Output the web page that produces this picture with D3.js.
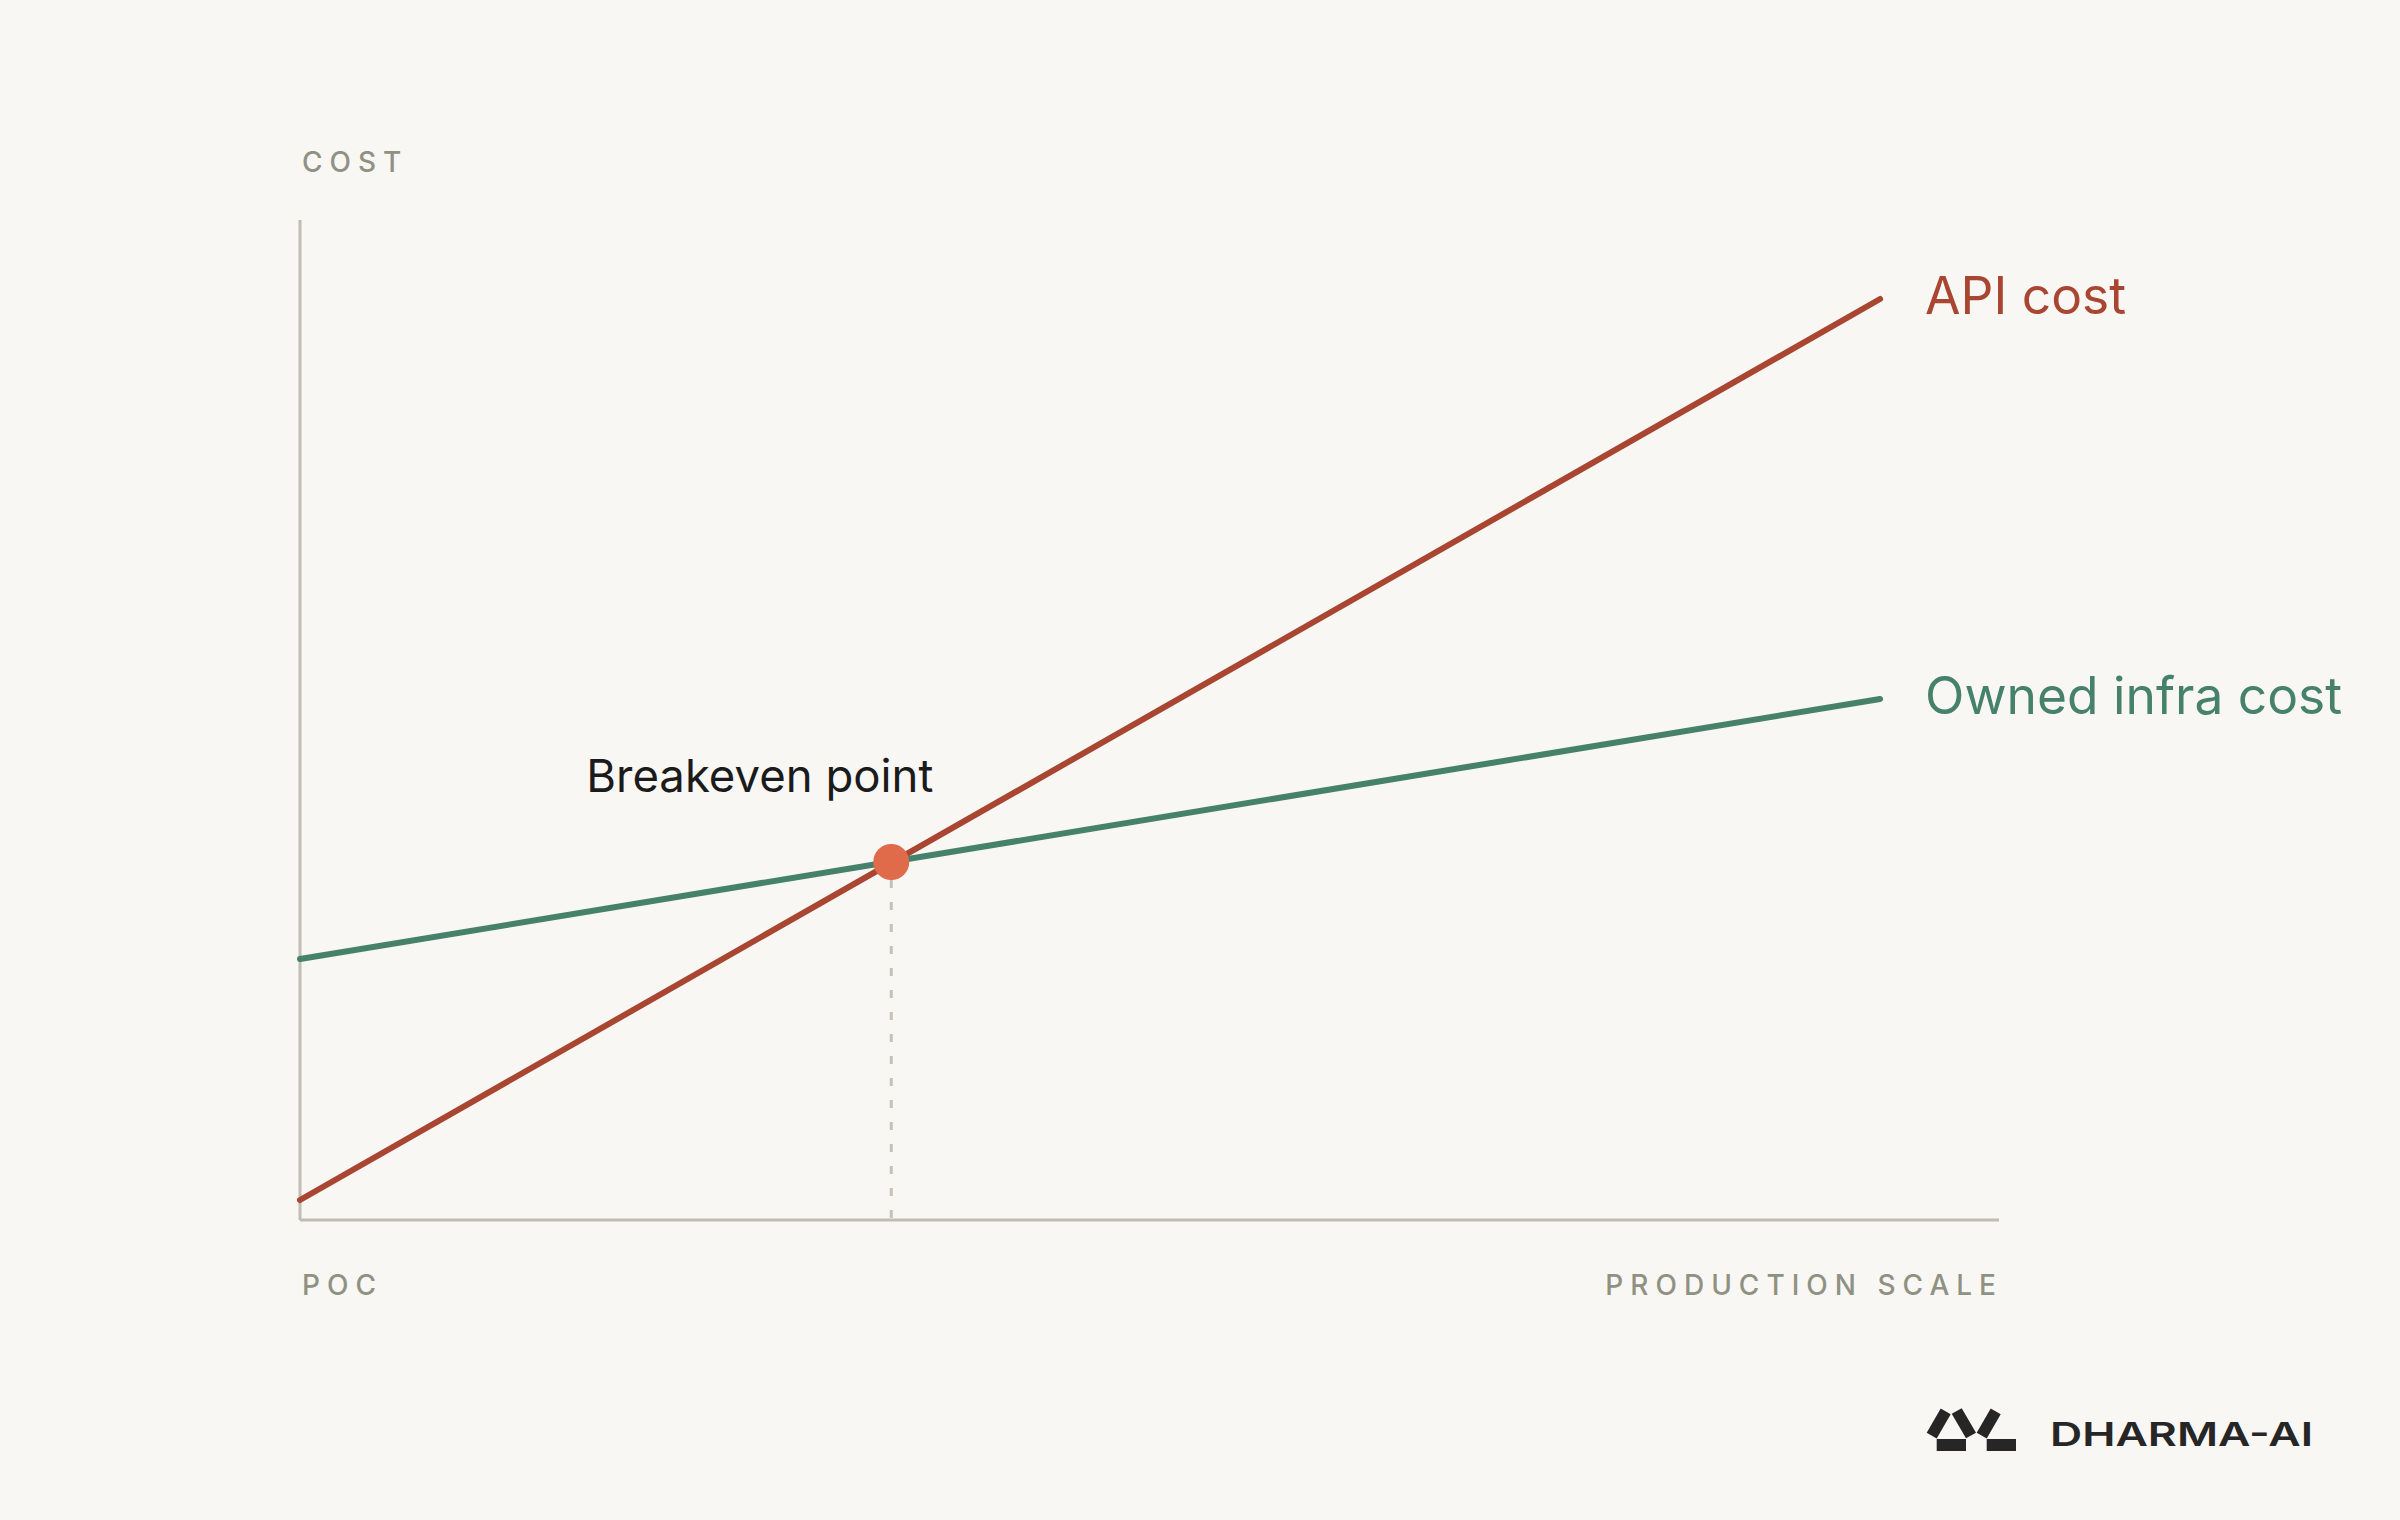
<!DOCTYPE html>
<html>
<head>
<meta charset="utf-8">
<script src="https://cdn.jsdelivr.net/npm/d3@7"></script>
<style>
  html, body { margin: 0; padding: 0; background: #f9f7f3; }
  svg { display: block; font-family: Inter, "Noto Sans", sans-serif; }
</style>
</head>
<body>
<div id="chart"></div>
<script>
// Chart data (cost index 0-100 against production scale 0-100)
const seriesNames = ["API cost", "Owned infra cost"];
const seriesColors = ["#a84632", "#46816b"];
const scalePoints = [0, 93];
const apiCost = [2, 92.1];
const ownedCost = [26.1, 52.1];
const breakeven = { x: 34.8, y: 35.8, label: "Breakeven point" };
const axisLabels = { y: "COST", xStart: "POC", xEnd: "PRODUCTION SCALE" };
const brand = "DHARMA-AI";

const width = 2400, height = 1520;
const margin = { left: 300, right: 401, top: 220, bottom: 300 };

const svg = d3.select("#chart").append("svg")
    .attr("width", width)
    .attr("height", height);

svg.append("rect")
    .attr("width", width)
    .attr("height", height)
    .attr("fill", "#f9f7f3");

const x = d3.scaleLinear().domain([0, 100]).range([margin.left, width - margin.right]);
const y = d3.scaleLinear().domain([0, 100]).range([height - margin.bottom, margin.top]);

// Axes: plain lines, no ticks
svg.append("line")
    .attr("x1", x(0)).attr("x2", x(0))
    .attr("y1", y(0)).attr("y2", y(100))
    .attr("stroke", "#bfbeb2")
    .attr("stroke-width", 3);

svg.append("line")
    .attr("x1", x(0)).attr("x2", x(100))
    .attr("y1", y(0)).attr("y2", y(0))
    .attr("stroke", "#bfbeb2")
    .attr("stroke-width", 3);

// Axis labels
const labelColor = "#8f9283";
svg.append("text")
    .attr("x", x(0) + 2)
    .attr("y", 172)
    .attr("fill", labelColor)
    .style("font-size", "28px")
    .style("font-weight", 500)
    .style("letter-spacing", "7px")
    .text(axisLabels.y);

svg.append("text")
    .attr("x", x(0) + 2)
    .attr("y", 1295)
    .attr("fill", labelColor)
    .style("font-size", "28px")
    .style("font-weight", 500)
    .style("letter-spacing", "7px")
    .text(axisLabels.xStart);

svg.append("text")
    .attr("x", x(100) + 4)
    .attr("y", 1295)
    .attr("text-anchor", "end")
    .attr("fill", labelColor)
    .style("font-size", "28px")
    .style("font-weight", 500)
    .style("letter-spacing", "7px")
    .text(axisLabels.xEnd);

// Dashed guide from breakeven to x axis
svg.append("line")
    .attr("x1", x(breakeven.x)).attr("x2", x(breakeven.x))
    .attr("y1", y(breakeven.y) + 18).attr("y2", y(0))
    .attr("stroke", "#c4c2b6")
    .attr("stroke-width", 3)
    .attr("stroke-dasharray", "8,14");

// Cost lines
const line = d3.line()
    .x((d, i) => x(scalePoints[i]))
    .y(d => y(d));

[apiCost, ownedCost].forEach((values, k) => {
    svg.append("path")
        .datum(values)
        .attr("d", line)
        .attr("fill", "none")
        .attr("stroke", seriesColors[k])
        .attr("stroke-width", 6)
        .attr("stroke-linecap", "round");

    svg.append("text")
        .attr("x", x(scalePoints[1]) + 45)
        .attr("y", y(values[1]) + 15)
        .attr("fill", seriesColors[k])
        .style("font-size", "51.5px")
        .text(seriesNames[k]);
});

// Breakeven marker
svg.append("circle")
    .attr("cx", x(breakeven.x))
    .attr("cy", y(breakeven.y))
    .attr("r", 18)
    .attr("fill", "#e06b4a");

svg.append("text")
    .attr("x", x(breakeven.x) - 305)
    .attr("y", y(breakeven.y) - 70)
    .attr("fill", "#1b1b1b")
    .style("font-size", "45.5px")
    .text(breakeven.label);

// Brand mark
const logo = svg.append("g").attr("fill", "#262626");
const tilted = [
    [[1926.7, 1432.7], [1940.7, 1408.5], [1950.7, 1414.3], [1936.7, 1438.5]],
    [[1951.7, 1413.8], [1961.7, 1408.3], [1976, 1432.7], [1966, 1438.3]],
    [[1976.7, 1432.7], [1990.7, 1408.5], [2000.7, 1414.3], [1986.7, 1438.5]]
];
tilted.forEach(pts => {
    logo.append("polygon").attr("points", pts.map(p => p.join(",")).join(" "));
});
logo.append("rect").attr("x", 1936.7).attr("y", 1439).attr("width", 29.3).attr("height", 12);
logo.append("rect").attr("x", 1986.7).attr("y", 1439).attr("width", 29.3).attr("height", 12);

svg.append("text")
    .attr("x", 2050)
    .attr("y", 1446)
    .attr("fill", "#262626")
    .attr("textLength", 263)
    .attr("lengthAdjust", "spacingAndGlyphs")
    .style("font-size", "33px")
    .style("font-weight", 600)
    .text(brand);
</script>
</body>
</html>
